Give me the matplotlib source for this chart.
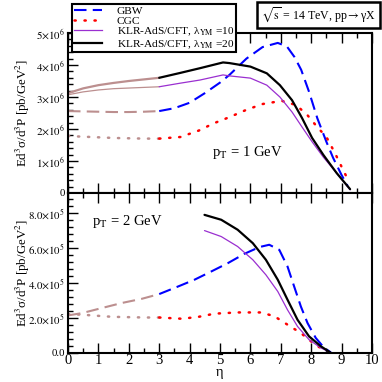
import matplotlib
matplotlib.use("Agg")
import matplotlib.pyplot as plt
from matplotlib.ticker import FixedLocator, MultipleLocator, AutoMinorLocator
from matplotlib.lines import Line2D

plt.rcParams['font.family'] = ['Liberation Serif', 'DejaVu Serif']
plt.rcParams['mathtext.fontset'] = 'stix'

# ---- p_T = 1 GeV (values in pb/GeV^2) ----
eta1_low = [0.0, 0.5, 1.0, 1.5, 2.0, 2.5, 3.0]
gbw1_low = [2.56e6, 2.55e6, 2.54e6, 2.53e6, 2.53e6, 2.54e6, 2.56e6]
cgc1_low = [1.78e6, 1.76e6, 1.74e6, 1.72e6, 1.71e6, 1.70e6, 1.70e6]
klr10_1_low = [3.07e6, 3.16e6, 3.22e6, 3.26e6, 3.28e6, 3.30e6, 3.32e6]
klr20_1_low = [3.12e6, 3.27e6, 3.37e6, 3.44e6, 3.50e6, 3.55e6, 3.60e6]

gbw1_eta = [3.0, 3.5, 4.0, 4.5, 5.0, 5.31, 5.87, 6.4, 6.9, 7.2, 7.45, 7.67, 7.93, 8.2, 8.5, 8.72, 9.0, 9.2]
gbw1 = [2.56e6, 2.65e6, 2.82e6, 3.12e6, 3.45e6, 3.69e6, 4.20e6, 4.56e6, 4.69e6, 4.58e6,
        4.25e6, 3.85e6, 3.16e6, 2.34e6, 1.60e6, 1.10e6, 0.56e6, 0.22e6]
cgc1_eta = [3.0, 3.7, 4.3, 4.8, 5.31, 5.87, 6.4, 7.03, 7.5, 7.87, 8.2, 8.5, 8.78, 9.05, 9.25]
cgc1 = [1.70e6, 1.75e6, 1.95e6, 2.18e6, 2.37e6, 2.60e6, 2.78e6, 2.88e6, 2.75e6, 2.44e6,
        2.06e6, 1.75e6, 1.25e6, 0.72e6, 0.34e6]
klr1_eta = [3.0, 3.68, 4.34, 5.1, 5.31, 6.0, 6.54, 6.97, 7.37, 7.7, 8.03, 8.4, 8.84, 9.28]
klr10_1 = [3.32e6, 3.43e6, 3.53e6, 3.69e6, 3.66e6, 3.59e6, 3.37e6, 3.00e6, 2.53e6, 2.06e6,
           1.60e6, 1.12e6, 0.62e6, 0.10e6]
klr20_1 = [3.60e6, 3.75e6, 3.90e6, 4.08e6, 4.06e6, 3.95e6, 3.74e6, 3.37e6, 2.90e6, 2.34e6,
           1.72e6, 1.19e6, 0.62e6, 0.12e6]

# ---- p_T = 2 GeV ----
eta2_low = [0.0, 0.46, 1.11, 1.77, 2.43, 3.0]
gbw2_low = [2.15e5, 2.28e5, 2.57e5, 2.86e5, 3.10e5, 3.37e5]
cgc2_low_eta = [0.0, 0.63, 1.44, 2.52, 3.0]
cgc2_low = [2.23e5, 2.17e5, 2.07e5, 2.03e5, 2.03e5]

gbw2_eta = [3.0, 3.63, 4.16, 4.71, 5.26, 5.8, 6.3, 6.62, 6.95, 7.22, 7.44, 7.66, 7.88, 8.15, 8.43, 8.65]
gbw2 = [3.37e5, 3.81e5, 4.19e5, 4.66e5, 5.14e5, 5.67e5, 6.06e5, 6.19e5, 5.90e5, 4.95e5,
        3.80e5, 2.66e5, 1.71e5, 0.86e5, 0.29e5, 0.03e5]
cgc2_eta = [3.0, 3.74, 4.27, 4.82, 5.58, 6.35, 6.79, 7.22, 7.66, 7.99, 8.26, 8.53]
cgc2 = [2.03e5, 1.96e5, 2.06e5, 2.25e5, 2.32e5, 2.32e5, 2.10e5, 1.62e5, 1.14e5, 0.67e5, 0.34e5, 0.10e5]
klr2_eta = [4.49, 5.04, 5.58, 6.08, 6.51, 6.9, 7.22, 7.55, 7.93, 8.32, 8.63]
klr10_2 = [7.00e5, 6.66e5, 6.09e5, 5.33e5, 4.47e5, 3.52e5, 2.47e5, 1.52e5, 0.76e5, 0.29e5, 0.03e5]
klr20_2 = [7.90e5, 7.62e5, 7.05e5, 6.28e5, 5.33e5, 4.19e5, 3.05e5, 1.90e5, 0.95e5, 0.38e5, 0.03e5]

yticks1 = [0, 1e6, 2e6, 3e6, 4e6, 5e6]
ylabels1 = ['0', r'$1{\times}10^{6}$', r'$2{\times}10^{6}$', r'$3{\times}10^{6}$',
            r'$4{\times}10^{6}$', r'$5{\times}10^{6}$']
yticks2 = [0, 2e5, 4e5, 6e5, 8e5]
ylabels2 = ['0.0', r'$2.0{\times}10^{5}$', r'$4.0{\times}10^{5}$', r'$6.0{\times}10^{5}$',
            r'$8.0{\times}10^{5}$']

legend_labels = ['GBW', 'CGC', r'KLR-AdS/CFT, λ$_{\rm YM}$ =10', r'KLR-AdS/CFT, λ$_{\rm YM}$ =20']

BLUE = '#0000ff'
RED = '#ff0000'
PURPLE = '#9a2fd0'
BLACK = '#000000'
LOW = '#bc8f8f'
DASH = (0, (6, 3))
DOT = (0, (0.5, 3.5))

fig = plt.figure(figsize=(3.82, 3.82), dpi=100)
ax1 = fig.add_axes([68 / 382, 1 - 193 / 382, 304 / 382, 160 / 382])
ax2 = fig.add_axes([68 / 382, 1 - 353 / 382, 304 / 382, 160 / 382])


def draw(ax, eta, y, color, style, lw):
    ax.plot(eta, y, color=color, linestyle=style, linewidth=lw,
            dash_capstyle='round' if style == DOT else 'butt', solid_capstyle='round')


# top panel
draw(ax1, eta1_low, gbw1_low, LOW, DASH, 1.5)
draw(ax1, eta1_low, cgc1_low, LOW, DOT, 1.8)
draw(ax1, eta1_low, klr10_1_low, LOW, '-', 0.9)
draw(ax1, eta1_low, klr20_1_low, LOW, '-', 1.6)
draw(ax1, gbw1_eta, gbw1, BLUE, DASH, 1.5)
draw(ax1, cgc1_eta, cgc1, RED, DOT, 1.8)
draw(ax1, klr1_eta, klr10_1, PURPLE, '-', 0.9)
draw(ax1, klr1_eta, klr20_1, BLACK, '-', 1.6)

# bottom panel
draw(ax2, eta2_low, gbw2_low, LOW, DASH, 1.5)
draw(ax2, cgc2_low_eta, cgc2_low, LOW, DOT, 1.8)
draw(ax2, gbw2_eta, gbw2, BLUE, DASH, 1.5)
draw(ax2, cgc2_eta, cgc2, RED, DOT, 1.8)
draw(ax2, klr2_eta, klr10_2, PURPLE, '-', 0.9)
draw(ax2, klr2_eta, klr20_2, BLACK, '-', 1.6)

ax1.set_ylim(0, 5.0e6)
ax2.set_ylim(0, 9.15e5)
for ax in (ax1, ax2):
    ax.set_xlim(0, 10)
    ax.xaxis.set_major_locator(MultipleLocator(1))
    ax.xaxis.set_minor_locator(MultipleLocator(0.5))
    ax.yaxis.set_minor_locator(AutoMinorLocator(5))
    ax.tick_params(which='both', direction='in', top=True, right=False, width=1.0)
    ax.tick_params(which='major', length=7)
    ax.tick_params(which='minor', length=3.5)
    ax.tick_params(axis='y', labelsize=7.8, pad=2)
    for s in ax.spines.values():
        s.set_linewidth(1.5)
    ax.set_ylabel(r'Ed$^3$σ/d$^3$P [pb/GeV$^2$]', fontsize=9.3)
    ax.yaxis.set_label_coords(-0.12, 0.5)

ax1.yaxis.set_major_locator(FixedLocator(yticks1))
ax1.set_yticklabels(ylabels1)
ax1.tick_params(axis='x', labelbottom=False)
ax2.yaxis.set_major_locator(FixedLocator(yticks2))
ax2.set_yticklabels(ylabels2)
ax2.tick_params(axis='x', labelsize=10.5, pad=1)
ax2.set_xlabel('η', fontsize=10.5, labelpad=-1)

ax1.text(4.75, 1.28e6, r'p$_{\rm T}$ = 1 GeV', fontsize=10.5, va='center')
ax2.text(0.78, 7.5e5, r'p$_{\rm T}$ = 2 GeV', fontsize=10.5, va='center')

handles = [
    Line2D([], [], color=BLUE, linestyle=DASH, linewidth=1.5),
    Line2D([], [], color=RED, linestyle=DOT, linewidth=1.8, dash_capstyle='round'),
    Line2D([], [], color=PURPLE, linewidth=0.9),
    Line2D([], [], color=BLACK, linewidth=1.6),
]
leg = fig.legend(handles, legend_labels, loc='upper left',
                 bbox_to_anchor=(72 / 382, 1 - 4 / 382), fontsize=8.2,
                 frameon=True, fancybox=False, framealpha=1, edgecolor='black',
                 handlelength=2.5, handletextpad=1.3, labelspacing=0.0,
                 borderpad=0.15, borderaxespad=0)
leg.get_frame().set_linewidth(1.5)

fig.text(376 / 382, 1 - 15 / 382, r'$\sqrt{\rm s}$ = 14 TeV, pp$\rightarrow$γX',
         fontsize=8.6, ha='right', va='center',
         bbox=dict(boxstyle='square,pad=0.3', facecolor='white', edgecolor='black', linewidth=1.8))

fig.savefig('out.png', dpi=100)
